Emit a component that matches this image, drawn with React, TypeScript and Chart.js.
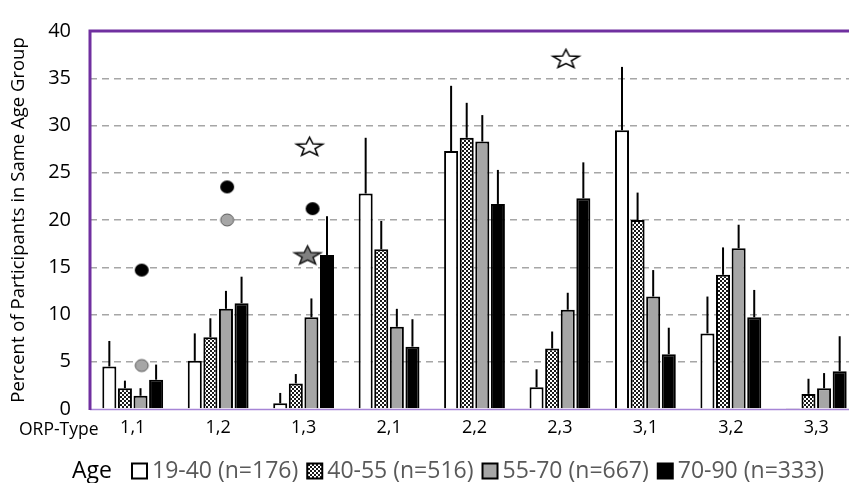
import React, { useEffect, useRef } from "react";
import { Chart, registerables } from "chart.js";

Chart.register(...registerables);

const FONT = "'Open Sans', 'Noto Sans', sans-serif";

// ---- data ----
const categories = ["1,1", "1,2", "1,3", "2,1", "2,2", "2,3", "3,1", "3,2", "3,3"];
const seriesLabels = ["19-40 (n=176)", "40-55 (n=516)", "55-70 (n=667)", "70-90 (n=333)"];

const age1940 = [4.5, 5.1, 0.6, 22.8, 27.3, 2.3, 29.5, 8.0, 0.1];
const age1940Err = [7.2, 8.0, 1.7, 28.7, 34.2, 4.2, 36.2, 11.9, null];
const age4055 = [2.2, 7.6, 2.7, 16.9, 28.7, 6.4, 20.0, 14.2, 1.6];
const age4055Err = [3.0, 9.6, 3.7, 19.9, 32.4, 8.2, 22.9, 17.1, 3.2];
const age5570 = [1.4, 10.6, 9.7, 8.7, 28.3, 10.5, 11.9, 17.0, 2.2];
const age5570Err = [2.2, 12.5, 11.7, 10.6, 31.1, 12.3, 14.7, 19.5, 3.8];
const age7090 = [3.1, 11.2, 16.3, 6.6, 21.7, 22.3, 5.8, 9.7, 4.0];
const age7090Err = [4.7, 14.0, 20.4, 9.5, 25.3, 26.1, 8.6, 12.6, 7.7];

// marker values per category (null = no marker)
const blackDots = [14.7, 23.5, 21.2, null, null, null, null, null, null];
const grayDots = [4.6, 20.0, null, null, null, null, null, null, null];
const whiteStars = [null, null, 27.8, null, null, 37.1, null, null, null];
const grayStars = [null, null, 16.3, null, null, null, null, null, null];

const yTicksMin = 0;
const yTicksMax = 40;
const yStep = 5;

function makeChecker(): CanvasPattern | string {
  const c = document.createElement("canvas");
  c.width = 4;
  c.height = 4;
  const g = c.getContext("2d")!;
  g.fillStyle = "#ffffff";
  g.fillRect(0, 0, 4, 4);
  g.fillStyle = "#1a1a1a";
  g.fillRect(0, 0, 2, 2);
  g.fillRect(2, 2, 2, 2);
  const p = g.createPattern(c, "repeat");
  return p || "#808080";
}

// marker glyph drawn shifted right by `shift` px inside its image
function makeDot(fill: string, stroke: string, w: number, h: number, lw: number, shift: number) {
  const c = document.createElement("canvas");
  c.width = Math.ceil(w + lw * 2 + 2 + shift * 2);
  c.height = Math.ceil(h + lw * 2 + 2);
  const g = c.getContext("2d")!;
  g.beginPath();
  g.ellipse(c.width / 2 + shift, c.height / 2, w / 2, h / 2, 0, 0, Math.PI * 2);
  g.fillStyle = fill;
  g.fill();
  if (lw > 0) {
    g.lineWidth = lw;
    g.strokeStyle = stroke;
    g.stroke();
  }
  return c;
}

function makeStar(fill: string, stroke: string, w: number, h: number, lw: number, shift: number) {
  const c = document.createElement("canvas");
  c.width = Math.ceil(w + lw * 2 + 4 + shift * 2);
  c.height = Math.ceil(h + lw * 2 + 4);
  const g = c.getContext("2d")!;
  const R = 1;
  const r = 0.42;
  const raw: [number, number][] = [];
  for (let k = 0; k < 10; k++) {
    const rad = k % 2 === 0 ? R : r;
    const a = -Math.PI / 2 + (k * Math.PI) / 5;
    raw.push([rad * Math.cos(a), rad * Math.sin(a)]);
  }
  const minX = Math.min(...raw.map((p) => p[0]));
  const maxX = Math.max(...raw.map((p) => p[0]));
  const minY = Math.min(...raw.map((p) => p[1]));
  const maxY = Math.max(...raw.map((p) => p[1]));
  const sx = w / (maxX - minX);
  const sy = h / (maxY - minY);
  const ox = c.width / 2 + shift - ((minX + maxX) / 2) * sx;
  const oy = c.height / 2 - ((minY + maxY) / 2) * sy;
  g.beginPath();
  raw.forEach(([px, py], i) => {
    const X = ox + px * sx;
    const Y = oy + py * sy;
    if (i === 0) g.moveTo(X, Y);
    else g.lineTo(X, Y);
  });
  g.closePath();
  g.fillStyle = fill;
  g.fill();
  g.lineWidth = lw;
  g.strokeStyle = stroke;
  g.lineJoin = "miter";
  g.stroke();
  return c;
}

const framePlugin = {
  id: "purpleFrame",
  beforeDatasetsDraw(chart: any) {
    const { ctx, chartArea } = chart;
    const { left, top, bottom } = chartArea;
    ctx.save();
    ctx.strokeStyle = "#a685d6";
    ctx.lineWidth = 1.5;
    ctx.beginPath();
    ctx.moveTo(left, bottom + 0.5);
    ctx.lineTo(chart.width, bottom + 0.5);
    ctx.stroke();
    ctx.strokeStyle = "#7030a0";
    ctx.lineWidth = 3;
    ctx.beginPath();
    ctx.moveTo(left, bottom + 1);
    ctx.lineTo(left, top);
    ctx.lineTo(chart.width, top);
    ctx.stroke();
    ctx.restore();
  },
};

const errorBarPlugin = {
  id: "errorBars",
  afterDatasetDraw(chart: any, args: any) {
    const ds = chart.data.datasets[args.index];
    const errs = ds.errTop;
    if (!errs) return;
    const { ctx } = chart;
    const yScale = chart.scales.y;
    ctx.save();
    ctx.strokeStyle = "#000";
    ctx.lineWidth = 2;
    args.meta.data.forEach((el: any, j: number) => {
      const e = errs[j];
      if (e == null) return;
      const yE = yScale.getPixelForValue(e);
      ctx.beginPath();
      ctx.moveTo(el.x, el.y);
      ctx.lineTo(el.x, yE);
      ctx.stroke();
    });
    ctx.restore();
  },
};

const textPlugin = {
  id: "extraText",
  afterDraw(chart: any) {
    const { ctx, chartArea } = chart;
    ctx.save();
    ctx.font = `17.5px ${FONT}`;
    ctx.fillStyle = "#000";
    ctx.textAlign = "left";
    ctx.textBaseline = "middle";
    ctx.fillText("ORP-Type", 19, chartArea.bottom + 21);

    const ly = 471;
    ctx.font = `23px ${FONT}`;
    ctx.fillStyle = "#000";
    ctx.fillText("Age", 72, ly);
    let x = 132;
    chart.data.datasets.forEach((ds: any) => {
      if (ds.type !== "bar") return;
      ctx.fillStyle = ds.backgroundColor;
      ctx.fillRect(x, ly - 7.5, 15, 15);
      ctx.strokeStyle = "#000";
      ctx.lineWidth = 2;
      ctx.strokeRect(x, ly - 7.5, 15, 15);
      ctx.fillStyle = "#595959";
      ctx.fillText(ds.label, x + 20, ly);
      x += 20 + ctx.measureText(ds.label).width + 9;
    });
    ctx.restore();
  },
};

export default function App() {
  const ref = useRef<HTMLCanvasElement>(null);

  useEffect(() => {
    const canvas = ref.current;
    if (!canvas) return;
    const checker = makeChecker();
    const blackDot = makeDot("#000000", "#000000", 14, 13, 0, 9);
    const grayDot = makeDot("#a6a6a6", "#595959", 13, 12, 1, 9);
    const whiteStar = makeStar("#ffffff", "#000000", 26, 18, 1.5, 6);
    const grayStar = makeStar("#808080", "#1a1a1a", 26, 18, 1.5, 4);

    const barCommon = {
      type: "bar" as const,
      borderColor: "#000000",
      borderWidth: 2,
      categoryPercentage: 0.73,
      barPercentage: 0.9,
    };
    const markerCommon = {
      type: "line" as const,
      showLine: false,
      pointRadius: 8,
      spanGaps: false,
    };

    const chart = new Chart(canvas, {
      type: "bar",
      data: {
        labels: categories,
        datasets: [
          { ...barCommon, label: seriesLabels[0], data: age1940, backgroundColor: "#ffffff", errTop: age1940Err } as any,
          { ...barCommon, label: seriesLabels[1], data: age4055, backgroundColor: checker, errTop: age4055Err } as any,
          { ...barCommon, label: seriesLabels[2], data: age5570, backgroundColor: "#a6a6a6", errTop: age5570Err } as any,
          { ...barCommon, label: seriesLabels[3], data: age7090, backgroundColor: "#000000", errTop: age7090Err } as any,
          { ...markerCommon, label: "black dots", data: blackDots, pointStyle: blackDot } as any,
          { ...markerCommon, label: "gray dots", data: grayDots, pointStyle: grayDot } as any,
          { ...markerCommon, label: "white stars", data: whiteStars, pointStyle: whiteStar } as any,
          { ...markerCommon, label: "gray stars", data: grayStars, pointStyle: grayStar } as any,
        ],
      },
      options: {
        responsive: false,
        animation: false,
        devicePixelRatio: 1,
        layout: { padding: { top: 20, right: 11, bottom: 34, left: 0 } },
        plugins: {
          legend: { display: false },
          tooltip: { enabled: false },
        },
        font: { family: FONT },
        scales: {
          x: {
            type: "category",
            offset: true,
            grid: { display: false, drawTicks: false },
            border: { display: false },
            ticks: { color: "#000", font: { family: FONT, size: 18 }, padding: 8 },
            afterFit: (s: any) => {
              s.height = 40;
            },
          },
          y: {
            min: yTicksMin,
            max: yTicksMax,
            ticks: { stepSize: yStep, color: "#000", font: { family: FONT, size: 20 }, padding: 19 },
            grid: {
              color: (c: any) =>
                c.tick && (c.tick.value === yTicksMin || c.tick.value === yTicksMax) ? "rgba(0,0,0,0)" : "#a6a6a6",
              lineWidth: 1.5,
              drawTicks: false,
            },
            border: { display: false, dash: [7, 5] },
            title: {
              display: true,
              text: "Percent of Participants in Same Age Group",
              color: "#000",
              font: { family: FONT, size: 18.5 },
              padding: { top: 8, bottom: 0 },
            },
            afterFit: (s: any) => {
              s.width = 90;
            },
          },
        },
      } as any,
      plugins: [framePlugin, errorBarPlugin, textPlugin],
    });
    return () => chart.destroy();
  }, []);

  return (
    <div
      style={{
        position: "fixed",
        left: 0,
        top: 0,
        width: 849,
        height: 483,
        overflow: "hidden",
        background: "#ffffff",
      }}
    >
      <canvas ref={ref} width={870} height={483} style={{ display: "block", width: 870, height: 483 }} />
    </div>
  );
}
